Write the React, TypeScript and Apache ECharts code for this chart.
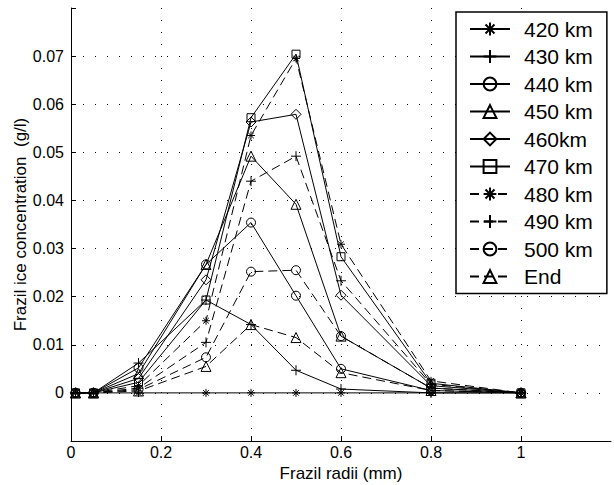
import React, { useEffect, useRef } from 'react';
import * as echarts from 'echarts';

const radii = [0.01, 0.05, 0.15, 0.3, 0.4, 0.5, 0.6, 0.8, 1.0];
const seriesNames = ['420 km', '430 km', '440 km', '450 km', '460km', '470 km', '480 km', '490 km', '500 km', 'End'];
const km420 = [0, 0, 0, 0, 0, 0, 0, 0, 0];
const km430 = [0, 0, 0.0062, 0.0193, 0.0142, 0.0047, 0.0008, 0, 0];
const km440 = [0, 0, 0.0052, 0.0267, 0.0354, 0.0202, 0.005, 0.0005, 0];
const km450 = [0, 0, 0.004, 0.0267, 0.0492, 0.0392, 0.0118, 0.001, 0];
const km460 = [0, 0, 0.003, 0.0235, 0.0563, 0.0579, 0.0203, 0.0015, 0];
const km470 = [0, 0, 0.0022, 0.0193, 0.0572, 0.0704, 0.0283, 0.002, 0];
const km480 = [0, 0, 0.0015, 0.015, 0.0535, 0.0695, 0.0309, 0.0025, 0];
const km490 = [0, 0, 0.001, 0.0105, 0.044, 0.0492, 0.0233, 0.0018, 0];
const km500 = [0, 0, 0.0007, 0.0074, 0.0252, 0.0255, 0.0118, 0.001, 0];
const kmEnd = [0, 0, 0.0004, 0.0055, 0.0142, 0.0115, 0.0042, 0.0005, 0];
const xTicks = [0, 0.2, 0.4, 0.6, 0.8, 1];
const yTicks = [0, 0.01, 0.02, 0.03, 0.04, 0.05, 0.06, 0.07];

const allValues = [km420, km430, km440, km450, km460, km470, km480, km490, km500, kmEnd];

const SYM = {
  asterisk: 'path://M5 0L5 10M0 5L10 5M1.5 1.5L8.5 8.5M1.5 8.5L8.5 1.5',
  plus: 'path://M5 0L5 10M0 5L10 5',
  circle: 'path://M0 5A5 5 0 1 1 10 5A5 5 0 1 1 0 5Z',
  triangle: 'path://M5 0L10 9L0 9Z',
  diamond: 'path://M5 0L10 5L5 10L0 5Z',
  square: 'path://M0 0L10 0L10 10L0 10Z',
};
const symbols = [SYM.asterisk, SYM.plus, SYM.circle, SYM.triangle, SYM.diamond, SYM.square, SYM.asterisk, SYM.plus, SYM.circle, SYM.triangle];
const sizes = [8, 10, 9, 10, 10, 8, 8, 10, 9, 10];
const FONT = 'Liberation Sans, Arial, sans-serif';

export default function App() {
  const ref = useRef<HTMLDivElement>(null);
  useEffect(() => {
    document.body.style.margin = '0';
    if (!ref.current) return;
    const chart = echarts.init(ref.current, undefined, { renderer: 'svg' });
    const series = seriesNames.map((name, i) => ({
      name,
      type: 'line',
      data: radii.map((r, j) => [r, allValues[i][j]]),
      symbol: symbols[i],
      symbolSize: sizes[i],
      showAllSymbol: true,
      lineStyle: { color: '#000', width: 1, type: i >= 6 ? [9, 5] : 'solid' },
      itemStyle: { color: 'rgba(0,0,0,0)', borderColor: '#000', borderWidth: 1 },
      emphasis: { disabled: true },
    }));
    chart.setOption({
      animation: false,
      grid: { left: 71, right: 3, top: 8, bottom: 44, containLabel: false, outerBoundsMode: 'none' },
      xAxis: {
        type: 'value', min: 0, max: 1.2, interval: 0.2,
        name: 'Frazil radii (mm)', nameLocation: 'middle', nameGap: 18,
        nameTextStyle: { fontFamily: FONT, fontSize: 17, color: '#000' },
        axisLine: { show: true, onZero: false, lineStyle: { color: '#000', width: 1 } },
        axisTick: { show: true, inside: true, length: 5, lineStyle: { color: '#000' } },
        axisLabel: {
          fontFamily: FONT, fontSize: 16, color: '#000', margin: 3, showMaxLabel: false,
          formatter: (v: number) => { const r = +v.toFixed(2); return xTicks.includes(r) ? String(r) : ''; },
        },
        splitLine: { show: true, showMinLine: false, showMaxLine: false, lineStyle: { color: '#000', type: [1, 11], width: 1 } },
      },
      yAxis: {
        type: 'value', min: -0.01, max: 0.08, interval: 0.01,
        name: 'Frazil ice concentration  (g/l)', nameLocation: 'middle', nameGap: 42, nameMoveOverlap: false,
        nameTextStyle: { fontFamily: FONT, fontSize: 17, color: '#000' },
        axisLine: { show: true, onZero: false, lineStyle: { color: '#000', width: 1 } },
        axisTick: { show: true, inside: true, length: 5, lineStyle: { color: '#000' } },
        axisLabel: {
          fontFamily: FONT, fontSize: 16, color: '#000', margin: 7,
          formatter: (v: number) => { const r = +v.toFixed(2); return yTicks.includes(r) ? String(r) : ''; },
        },
        splitLine: { show: true, showMinLine: false, showMaxLine: false, lineStyle: { color: '#000', type: [1, 11], width: 1 } },
      },
      legend: {
        orient: 'vertical', left: 456, top: 12,
        itemWidth: 40, itemHeight: 16, itemGap: 5.5,
        padding: [6, 14, 6, 13],
        borderColor: '#000', borderWidth: 1.5, backgroundColor: '#fff',
        formatter: (n: string) => '{t|' + n + '}',
        textStyle: {
          fontFamily: FONT, fontSize: 21, color: '#000', lineHeight: 22,
          rich: { t: { fontFamily: FONT, fontSize: 21, color: '#000', lineHeight: 22, padding: [0, 0, 0, 9] } },
        },
        data: seriesNames,
      },
      series,
    });
    return () => chart.dispose();
  }, []);
  return <div ref={ref} style={{ width: 614, height: 485 }} />;
}
